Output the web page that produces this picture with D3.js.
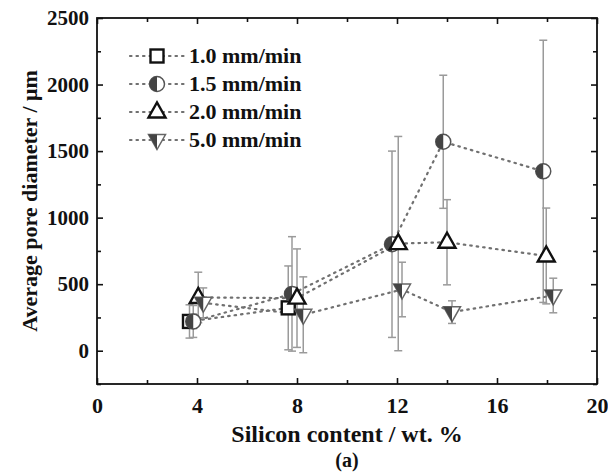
<!DOCTYPE html>
<html>
<head>
<meta charset="utf-8">
<script src="https://cdn.jsdelivr.net/npm/d3@7"></script>
<style>
    body { margin: 0; background: #fff; }
    text { font-family: "Liberation Serif", "Times New Roman", serif; font-weight: bold; }
</style>
</head>
<body>
<script>
// values (pore diameter in um, error = half bar length)
const seriesNames = ["1.0 mm/min", "1.5 mm/min", "2.0 mm/min", "5.0 mm/min"];

const rate10X = [3.7, 7.65];
const rate10Y = [220, 322];
const rate10Err = [125, 315];

const rate15X = [3.85, 7.8, 11.8, 13.85, 17.85];
const rate15Y = [220, 427, 800, 1570, 1348];
const rate15Err = [120, 430, 700, 500, 985];

const rate20X = [4.05, 8.0, 12.05, 14.0, 17.97];
const rate20Y = [400, 395, 805, 815, 712];
const rate20Err = [190, 370, 805, 320, 360];

const rate50X = [4.25, 8.25, 12.2, 14.2, 18.25];
const rate50Y = [360, 270, 460, 290, 415];
const rate50Err = [112, 285, 205, 85, 130];

const xTicks = [0, 4, 8, 12, 16, 20];
const yTicks = [0, 500, 1000, 1500, 2000, 2500];

const w = 608;
const h = 472;
const margin = { top: 18, right: 11, bottom: 88, left: 97 };

const svg = d3
    .select("body")
    .append("svg")
    .attr("width", w)
    .attr("height", h);

const x = d3
    .scaleLinear()
    .domain([0, 20])
    .range([margin.left, w - margin.right]);

const y = d3
    .scaleLinear()
    .domain([-250, 2500])
    .range([h - margin.bottom, margin.top]);

const zip = (xs, ys, es) => xs.map((v, i) => ({ x: v, y: ys[i], e: es[i] }));

const series = [
    { name: seriesNames[0], shape: "square", points: zip(rate10X, rate10Y, rate10Err) },
    { name: seriesNames[1], shape: "circle", points: zip(rate15X, rate15Y, rate15Err) },
    { name: seriesNames[2], shape: "up", points: zip(rate20X, rate20Y, rate20Err) },
    { name: seriesNames[3], shape: "down", points: zip(rate50X, rate50Y, rate50Err) },
];

// axes: inward ticks on all four sides
const tickSize = (axis, n) => axis.tickSizeInner(n).tickSizeOuter(0);

function addAxis(axis, transform, labelSize) {
    const g = svg
        .append("g")
        .attr("transform", transform)
        .call(axis);
    g.select(".domain").remove();
    g.selectAll("line").attr("stroke", "#111").attr("stroke-width", 1.6);
    if (labelSize) {
        g.selectAll("text").attr("font-size", labelSize).attr("fill", "#111");
    } else {
        g.selectAll("text").remove();
    }
    return g;
}

const minorX = d3.range(2, 20, 4);
const minorY = d3.range(-250, 2500, 500);

addAxis(tickSize(d3.axisBottom(x).tickValues(xTicks).tickFormat(d3.format("d")), -6).tickPadding(13), `translate(0,${y(-250)})`, 22);
addAxis(tickSize(d3.axisBottom(x).tickValues(minorX), -4), `translate(0,${y(-250)})`, 0);
addAxis(tickSize(d3.axisTop(x).tickValues(xTicks), -6), `translate(0,${y(2500)})`, 0);
addAxis(tickSize(d3.axisTop(x).tickValues(minorX), -4), `translate(0,${y(2500)})`, 0);
addAxis(tickSize(d3.axisLeft(y).tickValues(yTicks).tickFormat(d3.format("d")), -6).tickPadding(8), `translate(${x(0)},0)`, 21);
addAxis(tickSize(d3.axisLeft(y).tickValues(minorY), -4), `translate(${x(0)},0)`, 0);
addAxis(tickSize(d3.axisRight(y).tickValues(yTicks), -6), `translate(${x(20)},0)`, 0);
addAxis(tickSize(d3.axisRight(y).tickValues(minorY), -4), `translate(${x(20)},0)`, 0);

svg
    .append("rect")
    .attr("x", x(0))
    .attr("y", y(2500))
    .attr("width", x(20) - x(0))
    .attr("height", y(-250) - y(2500))
    .attr("fill", "none")
    .attr("stroke", "#111")
    .attr("stroke-width", 1.8);

// error bars
const bars = svg.append("g").attr("stroke", "#9a9a9a").attr("stroke-width", 1.5);
series.forEach(s => {
    s.points.forEach(p => {
        bars.append("line")
            .attr("x1", x(p.x)).attr("x2", x(p.x))
            .attr("y1", y(p.y - p.e)).attr("y2", y(p.y + p.e));
        [p.y - p.e, p.y + p.e].forEach(v => {
            bars.append("line")
                .attr("x1", x(p.x) - 4).attr("x2", x(p.x) + 4)
                .attr("y1", y(v)).attr("y2", y(v));
        });
    });
});

// dotted connecting lines
const line = d3.line().x(d => x(d.x)).y(d => y(d.y));
svg
    .selectAll("path.conn")
    .data(series)
    .enter()
    .append("path")
    .attr("class", "conn")
    .attr("d", d => line(d.points))
    .attr("fill", "none")
    .attr("stroke", "#707070")
    .attr("stroke-width", 2.2)
    .attr("stroke-dasharray", "1.5,5")
    .attr("stroke-linecap", "round");

// marker drawing
function drawMarker(g, shape) {
    if (shape === "square") {
        g.append("rect")
            .attr("x", -6.5).attr("y", -6.5).attr("width", 13).attr("height", 13)
            .attr("fill", "#fff").attr("stroke", "#111").attr("stroke-width", 2.4);
    } else if (shape === "circle") {
        g.append("circle").attr("r", 7.5).attr("fill", "#fff").attr("stroke", "#555").attr("stroke-width", 1.5);
        g.append("path").attr("d", "M0,-7.5A7.5,7.5 0 0,0 0,7.5Z").attr("fill", "#444");
    } else if (shape === "up") {
        g.append("path")
            .attr("d", "M-8.5,5.5L8.5,5.5L0,-9.5Z")
            .attr("fill", "#fff").attr("stroke", "#111").attr("stroke-width", 2.4)
            .attr("stroke-linejoin", "miter");
    } else {
        g.append("path").attr("d", "M-8.5,-5.5L8.5,-5.5L0,9.5Z")
            .attr("fill", "#fff").attr("stroke", "#666").attr("stroke-width", 1.5);
        g.append("path").attr("d", "M-8.5,-5.5L0,-5.5L0,9.5Z").attr("fill", "#444");
    }
}

series.forEach(s => {
    s.points.forEach(p => {
        const g = svg.append("g").attr("transform", `translate(${x(p.x)},${y(p.y)})`);
        drawMarker(g, s.shape);
    });
});

// legend
const legend = svg.append("g");
series.forEach((s, i) => {
    const ly = 56 + i * 28;
    legend.append("line")
        .attr("x1", 130).attr("x2", 184).attr("y1", ly).attr("y2", ly)
        .attr("stroke", "#707070").attr("stroke-width", 2.2)
        .attr("stroke-dasharray", "1.5,5").attr("stroke-linecap", "round");
    const g = legend.append("g").attr("transform", `translate(157,${ly})`);
    drawMarker(g, s.shape);
    legend.append("text")
        .attr("x", 189).attr("y", ly + 7)
        .attr("font-size", 22)
        .attr("fill", "#111")
        .text(s.name);
});

// axis titles
svg.append("text")
    .attr("x", x(10))
    .attr("y", 442)
    .attr("text-anchor", "middle")
    .attr("font-size", 24)
    .attr("fill", "#111")
    .text("Silicon content / wt. %");

svg.append("text")
    .attr("x", x(10))
    .attr("y", 467)
    .attr("text-anchor", "middle")
    .attr("font-size", 20)
    .attr("fill", "#111")
    .text("(a)");

svg.append("text")
    .attr("transform", `translate(37,${(y(-250) + y(2500)) / 2}) rotate(-90)`)
    .attr("text-anchor", "middle")
    .attr("font-size", 22)
    .attr("fill", "#111")
    .text("Average pore diameter / μm");
</script>
</body>
</html>
